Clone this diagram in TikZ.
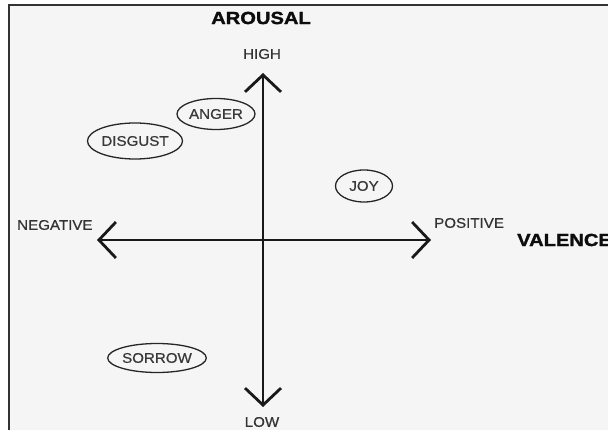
\documentclass[tikz,border=0pt]{standalone}
\usepackage{fontspec}
\setmainfont{Liberation Sans}
\newfontfamily\lblfont[FakeStretch=1.08, FakeBold=0.6]{Liberation Sans}
\newfontfamily\titlefont[FakeStretch=1.15, FakeBold=1.6]{Liberation Sans Bold}
\usetikzlibrary{arrows.meta,shapes.geometric}
\begin{document}
\begin{tikzpicture}[x=1pt,y=-1pt,
  lbl/.style={font=\lblfont\fontsize{14}{16}\selectfont, inner sep=0pt, text=black!80},
  title/.style={font=\titlefont\fontsize{17.5}{19}\selectfont, inner sep=0pt, text=black!95},
  emo/.style={ellipse, draw=black!85, line width=1.3pt, inner sep=0pt, font=\lblfont\fontsize{14}{16}\selectfont, text=black!78},
  axis/.style={line width=2.8pt, black!90, -{Straight Barb[length=17pt,width=36pt,line width=2.8pt]}}
]
\useasboundingbox (0,0) rectangle (608,430);
\fill[white] (0,0) rectangle (608,430);
\fill[black!4] (9,5) rectangle (608,430);
\draw[black!80, line width=1.2pt] (9,430) -- (9,5) -- (608,5);

\coordinate (c) at (263,240);
\coordinate (top) at (263,73);
\coordinate (bot) at (263,407);
\coordinate (lft) at (97,240);
\coordinate (rgt) at (431,240);

\draw[axis] (c) -- (top);
\draw[axis] (c) -- (bot);
\draw[axis] (c) -- (lft);
\draw[axis] (c) -- (rgt);

\node[title] (arousal) at (261,18) {AROUSAL};
\node[title, anchor=west] (valence) at (517,240) {VALENCE};
\node[lbl] (high) at (262,54) {HIGH};
\node[lbl] (low) at (262,422) {LOW};
\node[lbl, anchor=west] (neg) at (17,225) {NEGATIVE};
\node[lbl, anchor=west] (pos) at (434,223) {POSITIVE};

\node[emo, minimum width=78pt, minimum height=31pt] (anger) at (216,114) {ANGER};
\node[emo, minimum width=90pt, minimum height=36pt] (disgust) at (135,141) {DISGUST};
\node[emo, minimum width=57pt, minimum height=32pt] (joy) at (364,186) {JOY};
\node[emo, minimum width=98pt, minimum height=29pt] (sorrow) at (157,358) {SORROW};
\end{tikzpicture}
\end{document}
